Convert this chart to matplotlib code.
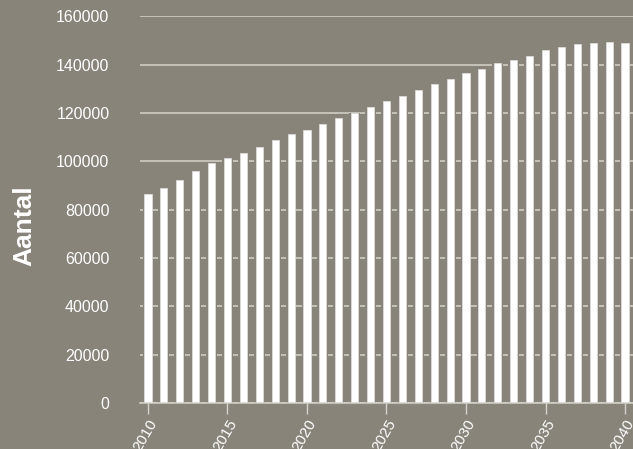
import matplotlib
matplotlib.use("Agg")
import matplotlib.pyplot as plt

years = list(range(2010, 2041))
values = [86500, 88800, 92300, 95900, 99400, 101200, 103400, 105900, 108800, 111200,
          112900, 115300, 117800, 120000, 122300, 124800, 127000, 129500, 131800, 134200,
          136500, 138200, 140700, 141900, 143600, 145900, 147100, 148400, 148900, 149500,
          148900]
yticks = [0, 20000, 40000, 60000, 80000, 100000, 120000, 140000, 160000]
xticks = [2010, 2015, 2020, 2025, 2030, 2035, 2040]

bg = "#88847a"
grid_c = "#d6d3cc"

plt.rcParams['font.family'] = ['Liberation Sans', 'DejaVu Sans']

fig = plt.figure(figsize=(6.33, 4.49), dpi=100)
fig.patch.set_facecolor(bg)
ax = fig.add_axes([140/633, 1 - 403/449, 1 - 140/633, (403 - 16.3)/449])
ax.set_facecolor(bg)

ax.set_axisbelow(True)
ax.yaxis.grid(True, color=grid_c, linewidth=1.1)
# mask bars (background colour) so the grid looks broken near bars
ax.bar(years, values, width=0.68, color=bg, linewidth=0, zorder=2)
ax.bar(years, values, width=0.45, color="white", edgecolor="#e4e2de", linewidth=0.5, zorder=3)

ax.set_xlim(2009.5, 2040.5)
ax.set_ylim(0, 160000)
ax.set_yticks(yticks)
ax.set_yticklabels([str(v) for v in yticks])
ax.set_xticks(xticks)
ax.set_xticklabels([str(v) for v in xticks], rotation=60, ha="right",
                   rotation_mode="anchor")

for s in ["left", "right", "top"]:
    ax.spines[s].set_visible(False)
ax.spines["bottom"].set_color(grid_c)
ax.spines["bottom"].set_linewidth(1.1)
ax.spines["bottom"].set_zorder(4)

ax.tick_params(axis="y", length=0, pad=22, labelsize=11.5, labelcolor="white")
ax.tick_params(axis="x", length=8, width=1, color=grid_c, pad=2,
               labelsize=11, labelcolor="white")

fig.text(24/633, 1 - 226/449, "Aantal", rotation=90, ha="center", va="center",
         fontsize=19, fontweight="bold", color="white")

fig.savefig("out.png", dpi=100, facecolor=bg)
